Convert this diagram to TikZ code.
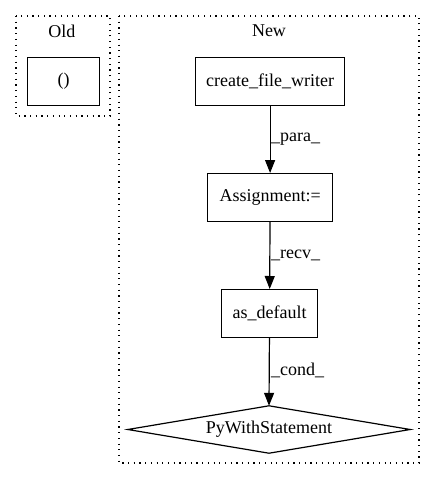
\documentclass[tikz,border=0pt]{standalone}
\usepackage{fontspec}
\setmainfont{Liberation Serif}
\usetikzlibrary{arrows.meta}
\begin{document}
\begin{tikzpicture}[x=1pt,y=-1pt,
  every node/.style={font=\fontsize{18}{21}\selectfont},
  cluster/.style={draw, line width=1.2pt, dash pattern=on 1.2pt off 4.5pt},
  box/.style={draw, line width=1.2pt, rectangle, inner sep=0pt, anchor=north west},
  lbl/.style={anchor=west, inner sep=0pt},
  conn/.style={line width=1.2pt, -{Triangle[length=13pt,width=10pt]}}]
\useasboundingbox (0,0) rectangle (435,480);
% clusters
\draw[cluster] (16,16) rectangle (110,116);
\draw[cluster] (119,16) rectangle (419,463);
\node (old) at (62,31) {Old};
\node (new) at (269,31) {New};
% nodes
\node[box, minimum width=72pt, minimum height=48pt] (paren) at (27,57) {()};
\node[box, minimum width=149pt, minimum height=48pt] (cfw) at (195,57) {create\_file\_writer};
\node[box, minimum width=125pt, minimum height=48pt] (asg) at (207,173) {Assignment:=};
\node[box, minimum width=96pt, minimum height=48pt] (asd) at (221,289) {as\_default};
\node[draw=none, inner sep=0pt, minimum width=282pt, minimum height=47pt] (pws) at (269,429.5) {PyWithStatement};
\draw[line width=1.2pt] (pws.west) -- (pws.north) -- (pws.east) -- (pws.south) -- cycle;
% connectors
\draw[conn] (cfw) -- (asg);
\draw[conn] (asg) -- (asd);
\draw[conn] (asd) -- (pws.north);
% labels
\node[lbl] (l1) at (271,139) {\_para\_};
\node[lbl] (l2) at (271,255) {\_recv\_};
\node[lbl] (l3) at (271,370) {\_cond\_};
\end{tikzpicture}
\end{document}
